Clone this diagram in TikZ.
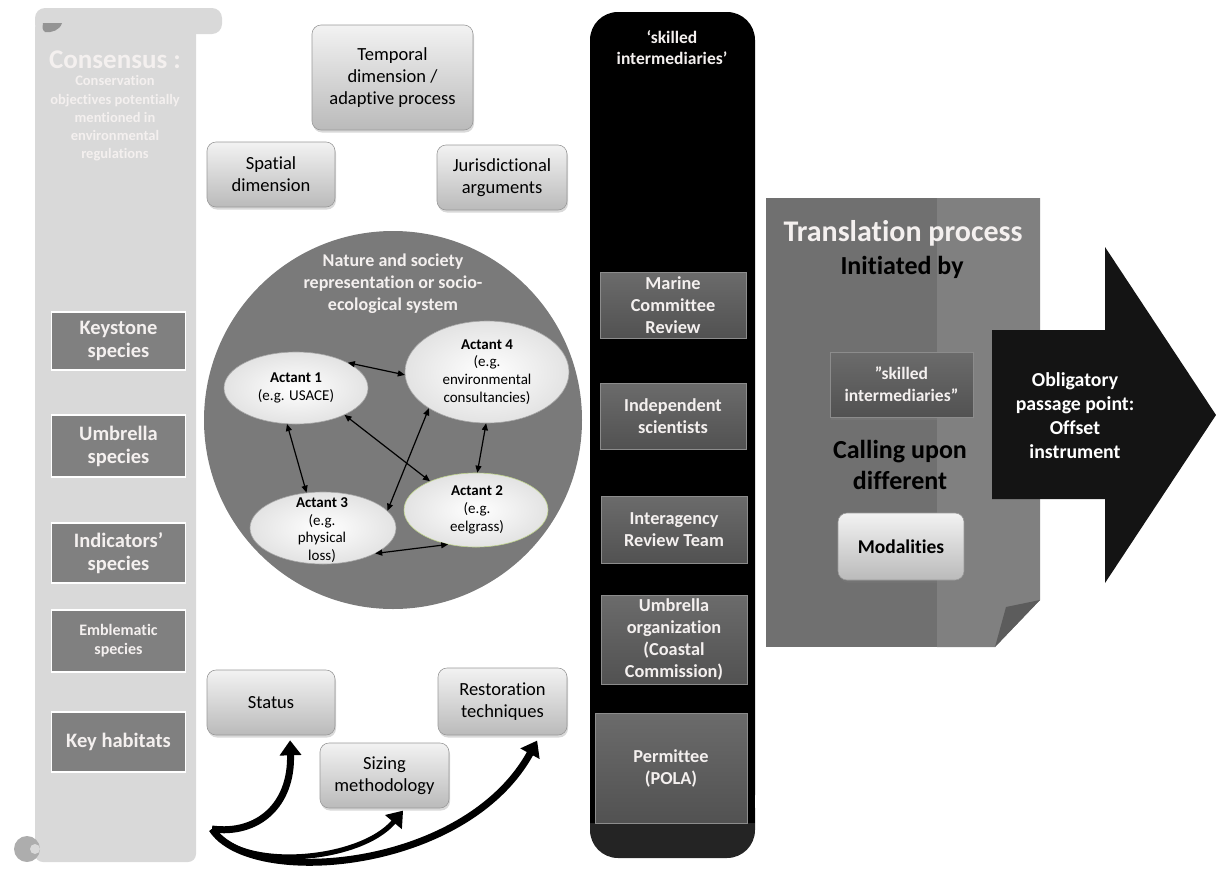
\documentclass[tikz,border=0pt]{standalone}
\usepackage{fontspec}
\setmainfont{Carlito}[Ligatures=NoCommon]
\usetikzlibrary{arrows.meta,shapes.geometric,shadows}
\definecolor{scrollgray}{HTML}{D9D9D9}
\definecolor{pale}{HTML}{F4F0EF}
\definecolor{eelgreen}{RGB}{190,210,140}
\tikzset{
  keybox/.style={draw=white, line width=1.6pt, fill=black!50, text=pale, align=center,
    font=\bfseries\fontsize{20.5}{23}\selectfont, minimum width=134pt, inner sep=0pt},
  softbox/.style={draw=black!40, line width=0.6pt, rounded corners=9pt, top color=black!5,
    bottom color=black!27, align=center, font=\fontsize{18.5}{22}\selectfont, inner sep=0pt,
    drop shadow={opacity=0.3, shadow xshift=1pt, shadow yshift=-2.5pt}},
  darkbox/.style={draw=black!45, line width=0.6pt, top color=black!58, bottom color=black!68,
    text=pale, align=center, font=\bfseries\fontsize{18.3}{22}\selectfont,
    minimum width=146pt, inner sep=0pt},
  actant/.style={ellipse, draw=black!35, line width=0.6pt, inner color=white,
    outer color=black!11, inner sep=0pt},
  actant text/.style={align=center, font=\fontsize{15}{17.7}\selectfont},
  link/.style={{Triangle[length=7pt,width=6pt]}-{Triangle[length=7pt,width=6pt]}, line width=1.2pt},
  swoop/.style={-{Triangle[length=15pt,width=21pt]}, line width=7pt},
  light text/.style={text=pale, align=center}
}

\begin{document}
\begin{tikzpicture}[x=1pt,y=-1pt]
  \useasboundingbox (0,0) rectangle (1216,868);

  % consensus scroll
  \fill[scrollgray, rounded corners=10pt] (35,8) rectangle (222,34);
  \fill[scrollgray, rounded corners=8pt] (35,20) rectangle (196,862);
  \fill[black!42] (43,23) -- (62,23) .. controls (60,30) and (52,33) .. (45,32)
    .. controls (42,30) and (42,26) .. cycle;
  \fill[black!32] (27,849) circle[radius=13pt];
  \fill[scrollgray] (35,849) circle[radius=5pt];

  \node[light text, font=\bfseries\fontsize{27}{30}\selectfont] (consensus) at (115,60) {Consensus :};
  \node[light text, font=\bfseries\fontsize{14.5}{18.3}\selectfont] (objectives) at (115,118.5)
    {Conservation\\objectives potentially\\mentioned in\\environmental\\regulations};

  \node[keybox, minimum height=58pt] (keystone) at (118.5,341) {Keystone\\species};
  \node[keybox, minimum height=62pt] (umbrella) at (118.5,446) {Umbrella\\species};
  \node[keybox, minimum height=60pt] (indicators) at (118.5,553) {Indicators’\\species};
  \node[keybox, minimum height=62pt, font=\bfseries\fontsize{16}{19}\selectfont] (emblematic)
    at (118.5,641) {Emblematic\\species};
  \node[keybox, minimum height=60pt] (habitats) at (118.5,742) {Key habitats};

  % dimensions round the system
  \node[softbox, minimum width=161pt, minimum height=105pt] (temporal) at (392.5,77.5)
    {Temporal\\dimension /\\adaptive process};
  \node[softbox, minimum width=128pt, minimum height=65pt] (spatial) at (271,174.5)
    {Spatial\\dimension};
  \node[softbox, minimum width=130pt, minimum height=65pt] (jurisdiction) at (502,177.5)
    {Jurisdictional\\arguments};

  \node[circle, fill=black!52, minimum size=378pt, inner sep=0pt] (nature) at (393,420) {};
  \node[light text, font=\bfseries\fontsize{18}{22}\selectfont] (naturetitle) at (393,284)
    {Nature and society\\representation or socio-\\ecological system};

  \node[actant, minimum width=144pt, minimum height=72pt] (act1) at (296,388) {};
  \node[actant, minimum width=164pt, minimum height=102pt] (act4) at (487,372) {};
  \node[actant, minimum width=146pt, minimum height=72pt] (act3) at (323,528) {};
  \node[actant, draw=eelgreen, minimum width=144pt, minimum height=74pt] (act2) at (476,510) {};
  \node[actant text] (act1txt) at (296,388) {\textbf{Actant 1}\\(e.g. USACE)};
  \node[actant text] (act4txt) at (487,372) {\textbf{Actant 4}\\(e.g.\\environmental\\consultancies)};
  \node[actant text] (act3txt) at (322,530) {\textbf{Actant 3}\\(e.g.\\physical\\loss)};
  \node[actant text] (act2txt) at (477,510) {\textbf{Actant 2}\\(e.g.\\eelgrass)};

  \draw[link] (act1.26) -- (act4.182);
  \draw[link] (act1.256) -- (act3.115);
  \draw[link] (act1.331) -- (act2.148);
  \draw[link] (act4.212) -- (act3.15);
  \draw[link] (act4.269) -- (act2.88);
  \draw[link] (act3.334) -- (act2.231);

  \node[softbox, minimum width=128pt, minimum height=65pt] (status) at (271,702.5) {Status};
  \node[softbox, minimum width=129pt, minimum height=67pt] (restoration) at (502.5,701.5)
    {Restoration\\techniques};
  \node[softbox, minimum width=129pt, minimum height=65pt] (sizing) at (384.5,775.5)
    {Sizing\\methodology};

  \coordinate (swoop) at (212,829);
  \draw[swoop, shorten >=5pt] (swoop) .. controls (258,835) and (292,805) .. (status.-60);
  \draw[swoop, line width=5pt, shorten >=3pt] (swoop) .. controls (240,872) and (360,862) .. (sizing.-58);
  \draw[swoop, shorten >=6pt] (swoop) .. controls (250,888) and (465,872) .. (restoration.-42);

  % skilled intermediaries column
  \fill[black!86, rounded corners=28pt] (590,780) rectangle (755,858);
  \fill[black, rounded corners=28pt] (590,12) rectangle (755,823);
  \fill[black] (590,780) rectangle (755,823);
  \node[light text, font=\bfseries\fontsize{17.5}{21}\selectfont] (skilledhead) at (672,47.5)
    {‘skilled\\intermediaries’};

  \node[darkbox, minimum height=66pt] (marine) at (673,305) {Marine\\Committee\\Review};
  \node[darkbox, minimum height=66pt] (independent) at (673,416) {Independent\\scientists};
  \node[darkbox, minimum height=67pt] (interagency) at (674,529.5) {Interagency\\Review Team};
  \node[darkbox, minimum height=89pt] (coastal) at (674,639.5)
    {Umbrella\\organization\\(Coastal\\Commission)};
  \node[darkbox, minimum width=152pt, minimum height=110pt] (permittee) at (671,768)
    {Permittee\\(POLA)};

  % translation process
  \fill[black!56] (766,198) rectangle (937,647);
  \fill[black!50] (937,198) -- (1040,198) -- (1040,600) -- (995,647) -- (937,647) -- cycle;
  \fill[black!64] (1040,600) -- (995,647) -- (1006,607) -- cycle;

  \node[light text, font=\bfseries\fontsize{30}{34}\selectfont] (translation) at (903,233)
    {Translation process};
  \node[font=\bfseries\fontsize{26}{30}\selectfont] (initiated) at (902,267) {Initiated by};
  \node[darkbox, minimum width=143pt, minimum height=65pt, font=\bfseries\fontsize{17.5}{22}\selectfont,
    drop shadow={opacity=0.35, shadow xshift=1pt, shadow yshift=-2.5pt}] (skilled) at (901.5,384.5)
    {”skilled\\intermediaries”};
  \node[align=center, font=\bfseries\fontsize{26}{31}\selectfont] (calling) at (900,464.5)
    {Calling upon\\different};
  \node[softbox, minimum width=126pt, minimum height=67pt, font=\bfseries\fontsize{19.5}{22}\selectfont]
    (modalities) at (901,546.5) {Modalities};

  \fill[black!92] (992,330) -- (1105,330) -- (1105,247) -- (1216,415) -- (1105,583)
    -- (1105,499) -- (992,499) -- cycle;
  \node[text=white, align=center, font=\bfseries\fontsize{19.8}{24}\selectfont] (passage) at (1075,415.5)
    {Obligatory\\passage point:\\Offset\\instrument};
\end{tikzpicture}
\end{document}
